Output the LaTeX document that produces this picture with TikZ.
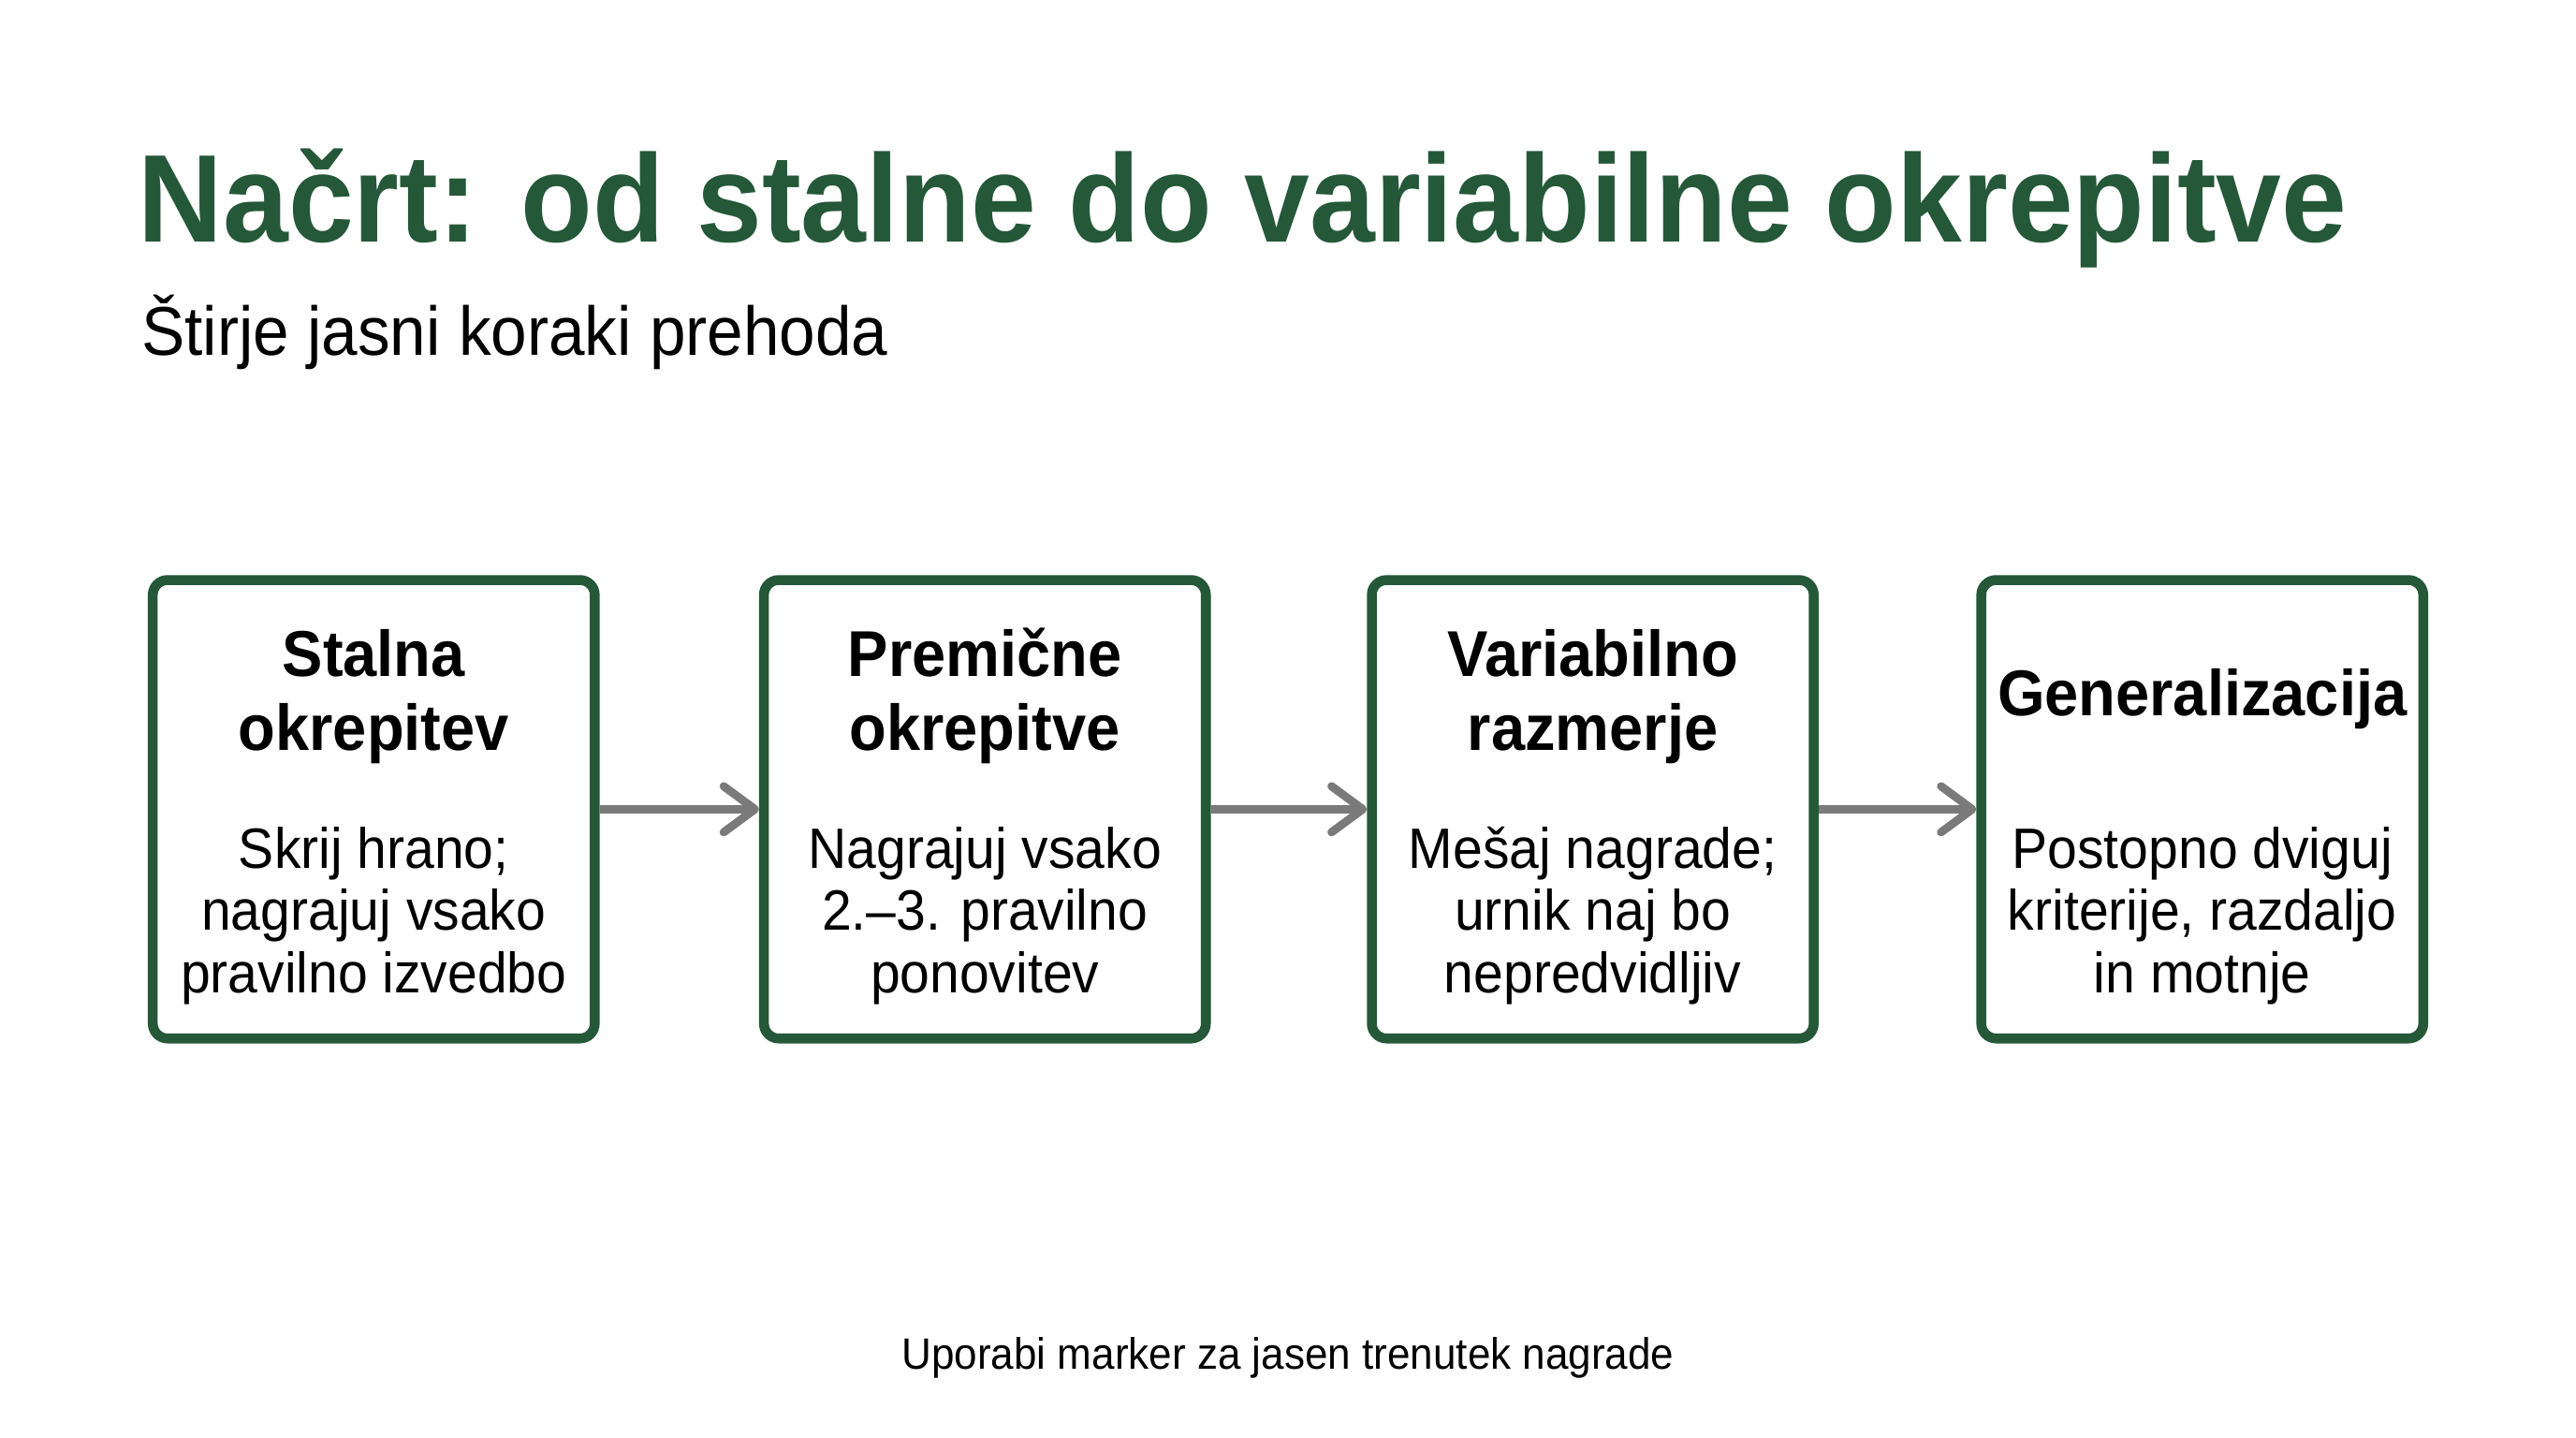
\documentclass[tikz,border=0pt]{standalone}
\usepackage{fontspec}
\setmainfont[FakeStretch=0.94]{Liberation Sans}
\usetikzlibrary{arrows.meta}
\definecolor{dgreen}{RGB}{36,88,56}
\definecolor{agray}{RGB}{122,122,122}
\begin{document}
\begin{tikzpicture}[x=1pt,y=-1pt,
  stepbox/.style={draw=dgreen, line width=6pt, rounded corners=9pt, fill=white,
    minimum width=269pt, minimum height=279pt, inner sep=0pt},
  boxtitle/.style={font=\fontsize{39.4}{45}\selectfont\bfseries, align=center,
    anchor=north, inner sep=0pt, text=black},
  boxdesc/.style={font=\fontsize{34.6}{38}\selectfont, align=center,
    anchor=north, inner sep=0pt, text=black},
  flow/.style={draw=agray, line width=5pt,
    -{Straight Barb[length=19pt,width=28pt,round]}}
]
\useasboundingbox[fill=white] (0,0) rectangle (1568,875);

% heading
\node[anchor=base west, inner sep=0pt, text=dgreen,
  font=\fontsize{76}{80}\selectfont\bfseries] (title) at (84,147.5)
  {Načrt: od stalne do variabilne okrepitve};
\node[anchor=base west, inner sep=0pt, text=black,
  font=\fontsize{42}{46}\selectfont] (subtitle) at (86,216.5)
  {Štirje jasni koraki prehoda};

% boxes
\node[stepbox] (b1) at (227.5,492.5) {};
\node[stepbox] (b2) at (599.5,492.5) {};
\node[stepbox] (b3) at (969.5,492.5) {};
\node[stepbox] (b4) at (1340.5,492.5) {};

% box titles
\node[boxtitle] (t1) at (227.5,380) {\strut Stalna\\okrepitev};
\node[boxtitle] (t2) at (599.5,380) {\strut Premične\\okrepitve};
\node[boxtitle] (t3) at (969.5,380) {\strut Variabilno\\razmerje};
\node[boxtitle, anchor=base] (t4) at (1340.5,435.3) {Generalizacija};

% box descriptions
\node[boxdesc] (d1) at (227.5,501.4) {\strut Skrij hrano;\\nagrajuj vsako\\pravilno izvedbo};
\node[boxdesc] (d2) at (599.5,501.4) {\strut Nagrajuj vsako\\2.–3. pravilno\\ponovitev};
\node[boxdesc] (d3) at (969.5,501.4) {\strut Mešaj nagrade;\\urnik naj bo\\nepredvidljiv};
\node[boxdesc] (d4) at (1340.5,501.4) {\strut Postopno dviguj\\kriterije, razdaljo\\in motnje};

% connectors
\draw[flow] (b1.east) -- (b2.west);
\draw[flow] (b2.east) -- (b3.west);
\draw[flow] (b3.east) -- (b4.west);

% footer
\node[anchor=base, inner sep=0pt, text=black,
  font=\fontsize{26.7}{30}\selectfont] (foot) at (784,833)
  {Uporabi marker za jasen trenutek nagrade};
\end{tikzpicture}
\end{document}
